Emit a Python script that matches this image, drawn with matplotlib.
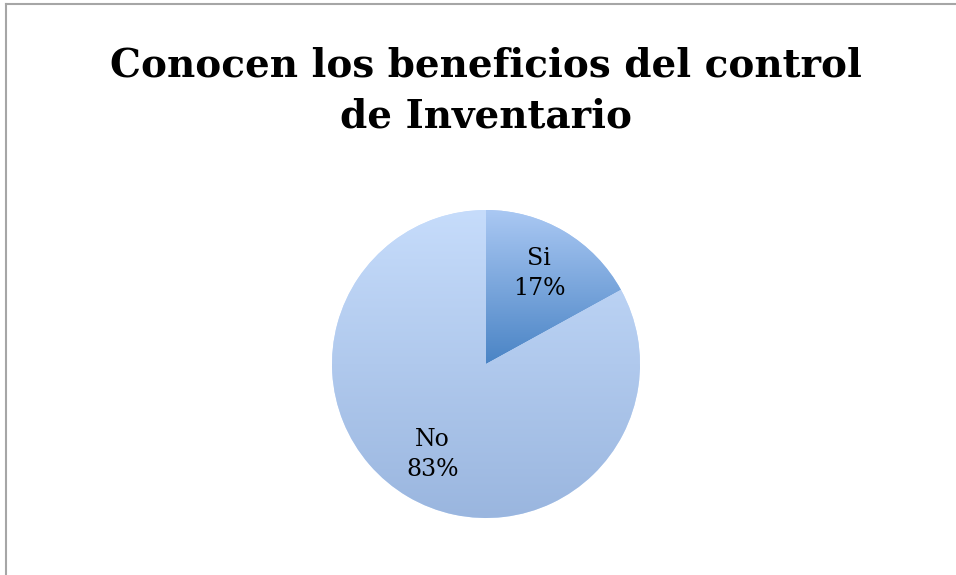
import numpy as np
import matplotlib
matplotlib.use("Agg")
import matplotlib.pyplot as plt
from matplotlib.colors import LinearSegmentedColormap
from matplotlib.lines import Line2D

title = "Conocen los beneficios del control\nde Inventario"
categories = ["Si", "No"]
shares = [17, 83]

W, H = 956, 575
fig = plt.figure(figsize=(W / 100, H / 100), dpi=100)

# chart border (only top and left visible in the crop)
fig.add_artist(Line2D([5.5 / W, 5.5 / W], [0, 1 - 3.5 / H], color="#a6a6a6", lw=1.5))
fig.add_artist(Line2D([5.5 / W, 1], [1 - 3.5 / H, 1 - 3.5 / H], color="#a6a6a6", lw=1.5))

fig.text(486 / W, 1 - 91 / H, title, ha="center", va="center", fontsize=28,
         fontweight="bold", family="DejaVu Serif", linespacing=1.42)

cx, cy, r = 486, 364, 154
ax = fig.add_axes([(cx - r) / W, (H - cy - r) / H, 2 * r / W, 2 * r / H])

labels = [f"{c}\n{s}%" for c, s in zip(categories, shares)]
wedges, texts = ax.pie(shares, labels=labels, startangle=90, counterclock=False,
                       labeldistance=0.68, radius=1,
                       wedgeprops=dict(linewidth=0),
                       textprops=dict(ha="center", va="center", fontsize=17,
                                      family="DejaVu Serif", linespacing=1.4))

grads = [("#aac8f3", "#4a84c5", (0, 1)), ("#c6dcfb", "#9ab6df", (-1, 1))]
for w, (top, bot, (y0, y1)) in zip(wedges, grads):
    cmap = LinearSegmentedColormap.from_list("g", [bot, top])
    img = np.linspace(0, 1, 256).reshape(-1, 1)
    im = ax.imshow(img, cmap=cmap, origin="lower", extent=(-1, 1, y0, y1),
                   aspect="auto", zorder=w.get_zorder() + 0.1)
    im.set_clip_path(w)
    w.set_facecolor(top)

for t in texts:
    t.set_zorder(5)

ax.set_xlim(-1, 1)
ax.set_ylim(-1, 1)
ax.set_aspect("equal")
ax.axis("off")

fig.savefig("out.png", dpi=100)
